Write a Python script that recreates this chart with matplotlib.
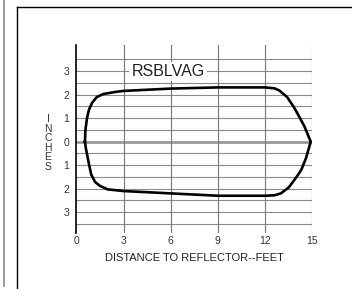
import matplotlib.pyplot as plt
import numpy as np

# beam pattern outline (distance in feet, width in inches)
dist_ft = [0.55, 0.58, 0.68, 0.80, 1.00, 1.30, 1.72, 2.50, 3.0, 6.0, 9.0, 12.0,
           12.6, 12.9, 13.4, 13.8, 14.1, 14.5, 14.9,
           14.6, 14.3, 14.0, 13.5, 13.0, 12.6, 12.0, 9.0, 6.0, 3.0, 2.0,
           1.5, 1.2, 0.95, 0.82, 0.70, 0.60, 0.55]
width_in = [0.0, 0.5, 1.0, 1.35, 1.65, 1.9, 2.03, 2.12, 2.16, 2.26, 2.31, 2.31,
            2.27, 2.18, 1.9, 1.5, 1.15, 0.65, 0.0,
            -0.7, -1.2, -1.5, -1.95, -2.2, -2.28, -2.3, -2.3, -2.2, -2.1, -2.03,
            -1.88, -1.72, -1.4, -1.0, -0.6, -0.25, 0.0]

x_ticks = [0, 3, 6, 9, 12, 15]
y_ticks = [3, 2, 1, 0, -1, -2, -3]
y_labels = ['3', '2', '1', '0', '1', '2', '3']
title = 'RSBLVAG'

plt.rcParams['font.family'] = ['Liberation Sans', 'DejaVu Sans']

fig = plt.figure(figsize=(3.52, 2.89), dpi=100)

# panel frame and neighbouring panel edge
fig.add_artist(plt.Line2D([16.5 / 352, 16.5 / 352], [0, 1 - 6.7 / 289],
                          color='black', lw=1.0))
fig.add_artist(plt.Line2D([16.5 / 352, 1], [1 - 6.7 / 289, 1 - 6.7 / 289],
                          color='black', lw=1.0))
fig.add_artist(plt.Line2D([3.5 / 352, 3.5 / 352], [3 / 289, 1],
                          color='#888888', lw=1.2))

ax = fig.add_axes([76.3 / 352, 0.1926, 236 / 352, 0.6505])
ax.set_xlim(0, 15)
ax.set_ylim(-3.9, 4.1)

for s in ['top', 'bottom', 'right']:
    ax.spines[s].set_visible(False)
ax.spines['left'].set_color('black')
ax.spines['left'].set_linewidth(1.2)

# grid
for yv in np.arange(-3.5, 3.51, 0.5):
    if abs(yv) < 1e-9:
        ax.axhline(yv, color='#999999', lw=2.0, zorder=1)
    else:
        ax.axhline(yv, color='#8a8a8a', lw=0.8, zorder=1)
for xv in x_ticks[1:]:
    ax.axvline(xv, color='#777777', lw=0.8, zorder=1)

ax.plot(dist_ft, width_in, color='black', lw=1.9, zorder=3)

ax.text(5.83, 3.0, title, ha='center', va='center', fontsize=11.5,
        color='#222222', zorder=4,
        bbox=dict(facecolor='white', edgecolor='none', pad=1.5))

ax.set_xticks(x_ticks)
ax.set_xticklabels([str(v) for v in x_ticks], fontsize=7.5, color='#333333')
ax.set_yticks(y_ticks)
ax.set_yticklabels(y_labels, fontsize=7.5, color='#333333')
ax.tick_params(length=0, pad=2)
ax.tick_params(axis='y', pad=5)

ax.set_xlabel('DISTANCE TO REFLECTOR--FEET', fontsize=8, color='#222222',
              labelpad=5)
fig.text(48 / 352, 1 - 143 / 289, '\n'.join('INCHES'), ha='center',
         va='center', fontsize=7.5, linespacing=0.95, color='#333333')

fig.savefig('out.png', dpi=100)
